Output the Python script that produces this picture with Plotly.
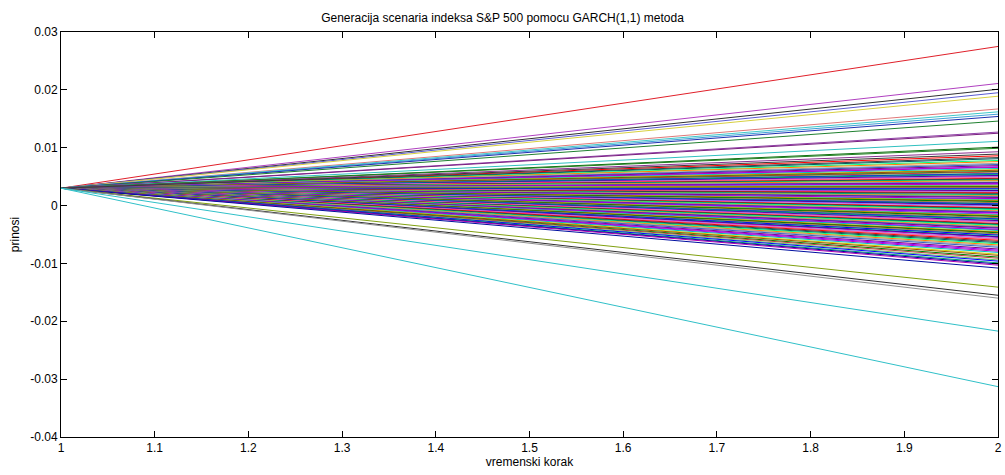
import plotly.graph_objects as go

# ---------------- data ----------------
steps = [1, 2]                      # vremenski korak
start_return = 0.003                # common starting return

# end-point returns of the scenarios at step 2
upper_tail = [0.0275, 0.0211, 0.0201, 0.0195, 0.0189, 0.0167, 0.0162, 0.0158,
              0.0154, 0.0146, 0.0127, 0.0125, 0.0111, 0.0101, 0.0099, 0.0093,
              0.0089]
upper_band = [0.0086, 0.0083, 0.0081, 0.0078, 0.0076, 0.0073, 0.0071, 0.0069,
              0.0067, 0.0066, 0.0064, 0.0062, 0.0061]
core_band = [0.0059, 0.0058, 0.0056, 0.0055, 0.0054, 0.0052, 0.0051, 0.0050,
             0.0049, 0.0047, 0.0046, 0.0045, 0.0044, 0.0043, 0.0041, 0.0040,
             0.0039, 0.0038, 0.0037, 0.0035, 0.0034, 0.0033, 0.0032, 0.0031,
             0.0030, 0.0029, 0.0027, 0.0026, 0.0025, 0.0024, 0.0023, 0.0022,
             0.0021, 0.0019, 0.0018, 0.0017, 0.0016, 0.0015, 0.0014, 0.0012,
             0.0011, 0.0010, 0.0009, 0.0008, 0.0007, 0.0005, 0.0004, 0.0003,
             0.0002, 0.0001, 0.0000, -0.0001, -0.0003, -0.0004, -0.0005,
             -0.0006, -0.0007, -0.0009, -0.0010, -0.0011, -0.0012, -0.0013,
             -0.0015, -0.0016, -0.0017, -0.0018, -0.0019, -0.0021, -0.0022,
             -0.0023, -0.0024, -0.0026, -0.0027, -0.0028, -0.0029, -0.0031,
             -0.0032, -0.0033, -0.0034, -0.0036, -0.0037, -0.0038, -0.0039,
             -0.0041, -0.0042, -0.0043, -0.0045, -0.0046, -0.0047, -0.0049,
             -0.0050, -0.0051, -0.0053, -0.0054, -0.0055, -0.0057, -0.0058,
             -0.0060]
lower_band = [-0.0062, -0.0064, -0.0066, -0.0068, -0.0070, -0.0072, -0.0075,
              -0.0077, -0.0079, -0.0081, -0.0084, -0.0086, -0.0089, -0.0091,
              -0.0094, -0.0096, -0.0099, -0.0101, -0.0103]
lower_tail = [-0.0108, -0.0141, -0.0155, -0.0160, -0.0217, -0.0313]

x_ticks = [1, 1.1, 1.2, 1.3, 1.4, 1.5, 1.6, 1.7, 1.8, 1.9, 2]
x_tick_labels = ["1", "1.1", "1.2", "1.3", "1.4", "1.5", "1.6", "1.7", "1.8", "1.9", "2"]
y_ticks = [-0.04, -0.03, -0.02, -0.01, 0, 0.01, 0.02, 0.03]
y_tick_labels = ["-0.04", "-0.03", "-0.02", "-0.01", "0", "0.01", "0.02", "0.03"]

# ---------------- styles ----------------
upper_tail_colors = ["#e0202a", "#b040c0", "#303030", "#5a5ad0", "#d8d040",
                     "#e07878", "#40c8c8", "#40a0d8", "#2030b0", "#208030",
                     "#9040a8", "#7a2080", "#30c0c0", "#107010", "#208020",
                     "#8a3090", "#3a3a3a"]
lower_tail_colors = ["#0010a0", "#80a010", "#303030", "#909090", "#30c0c8", "#30c0c8"]
palette = ["#ff0000", "#b000b0", "#0000ff", "#008000", "#00c0c0", "#800080",
           "#ff8000", "#404040", "#8080ff", "#00a070", "#c04040", "#d0d000",
           "#9000ff", "#a0a0a0", "#006060", "#ff60a0", "#0000a0", "#60c060",
           "#a05000", "#c000c0", "#3060c0", "#00ff80"]

fig = go.Figure()

def add_line(end_value, color):
    fig.add_trace(go.Scatter(
        x=steps, y=[start_return, end_value], mode="lines",
        line=dict(color=color, width=1), showlegend=False, hoverinfo="skip"))

band_values = upper_band + core_band + lower_band
for i, v in enumerate(band_values):
    add_line(v, palette[(i * 7) % len(palette)])
for v, c in zip(upper_tail, upper_tail_colors):
    add_line(v, c)
for v, c in zip(lower_tail, lower_tail_colors):
    add_line(v, c)

font_family = "Liberation Sans Narrow, Liberation Sans, Arial, sans-serif"

fig.update_layout(
    width=1005, height=475,
    margin=dict(l=61, r=7, t=32, b=38, autoexpand=False),
    paper_bgcolor="white", plot_bgcolor="white",
    font=dict(family=font_family, size=12, color="black"),
    title=dict(text="Generacija scenaria indeksa S&P 500 pomocu GARCH(1,1) metoda",
               x=0.5, xanchor="center", y=0.963, yanchor="middle",
               font=dict(size=12, family=font_family)),
)
fig.update_xaxes(
    range=[1, 2], tickvals=x_ticks, ticktext=x_tick_labels,
    ticks="inside", ticklen=6, tickcolor="black", tickwidth=1,
    showline=True, linecolor="black", linewidth=1, mirror="ticks",
    showgrid=False, zeroline=False, automargin=False,
    title=dict(text="vremenski korak", standoff=2, font=dict(size=12)),
    tickfont=dict(size=12),
)
fig.update_yaxes(
    range=[-0.04, 0.03], tickvals=y_ticks, ticktext=y_tick_labels,
    ticks="inside", ticklen=6, tickcolor="black", tickwidth=1,
    showline=True, linecolor="black", linewidth=1, mirror="ticks",
    showgrid=False, zeroline=False, automargin=False,
    title=dict(text="prinosi", standoff=8, font=dict(size=12)),
    tickfont=dict(size=12),
)

fig.write_html("out.html")
